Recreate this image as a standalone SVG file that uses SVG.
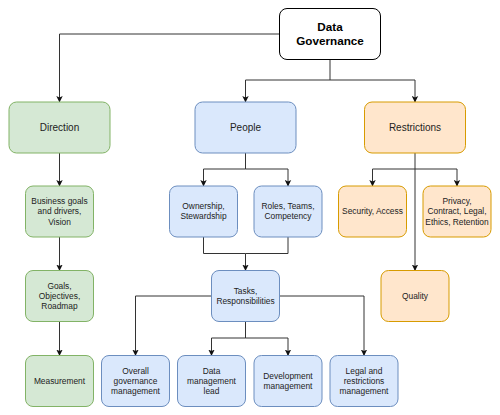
<svg xmlns="http://www.w3.org/2000/svg" width="500" height="415" viewBox="0 0 500 415">
<defs>
<marker id="arr" markerWidth="7" markerHeight="7" refX="6" refY="3.5" orient="auto" markerUnits="userSpaceOnUse">
<path d="M0,0.3 L6.5,3.5 L0,6.7 L1.6,3.5 Z" fill="#111"/>
</marker>
<style>
text{font-family:"Liberation Sans",Arial,sans-serif;fill:#222;text-anchor:middle}
.s{font-size:8.4px}
.m{font-size:10px}
.t{font-size:11.7px;font-weight:bold;fill:#000}
.root{fill:#fff;stroke:#000;stroke-width:1}
.g{fill:#d5e8d4;stroke:#82b366;stroke-width:1}
.b{fill:#dae8fc;stroke:#6c8ebf;stroke-width:1}
.o{fill:#ffe6cc;stroke:#d79b00;stroke-width:1}
.c{fill:none;stroke:#333;stroke-width:1}
.a{marker-end:url(#arr)}
</style>
</defs>
<g id="connectors">
<path class="c a" d="M279.5,34 H59.5 V102"/>
<path class="c a" d="M330,59.5 V80 H245.5 V102"/>
<path class="c a" d="M330,80 H415 V102"/>
<path class="c a" d="M59.5,153 V186"/>
<path class="c a" d="M59.5,237 V270.5"/>
<path class="c a" d="M59.5,321.5 V355.5"/>
<path class="c a" d="M245.5,153 V169 H203.5 V186"/>
<path class="c a" d="M245.5,169 H288 V186"/>
<path class="c a" d="M203.5,237 V253.5 H245.5 V270.5"/>
<path class="c" d="M288,237 V253.5 H245.5"/>
<path class="c a" d="M415,153 V270.5"/>
<path class="c a" d="M415,169 H372.5 V186"/>
<path class="c a" d="M415,169 H457 V186"/>
<path class="c a" d="M211.5,296 H135.5 V355.5"/>
<path class="c a" d="M279.5,296 H364 V355.5"/>
<path class="c a" d="M245.5,321.5 V338 H211.5 V355.5"/>
<path class="c a" d="M245.5,338 H288 V355.5"/>
</g>
<g id="data-governance">
<rect class="root" x="279.5" y="8.5" width="101" height="51" rx="7.5"/>
<text class="t" x="330" y="31.1">Data</text>
<text class="t" x="330" y="45.1">Governance</text>
</g>
<g id="direction">
<rect class="g" x="9" y="102" width="101" height="51" rx="7.5"/>
<text class="m" x="59.5" y="131">Direction</text>
</g>
<g id="people">
<rect class="b" x="195" y="102" width="101" height="51" rx="7.5"/>
<text class="m" x="245.5" y="131">People</text>
</g>
<g id="restrictions">
<rect class="o" x="364.5" y="102" width="101" height="51" rx="7.5"/>
<text class="m" x="415" y="131">Restrictions</text>
</g>
<g id="business-goals">
<rect class="g" x="25.5" y="186" width="68" height="51" rx="7.5"/>
<text class="s" x="59.5" y="204.3">Business goals</text>
<text class="s" x="59.5" y="214.4">and drivers,</text>
<text class="s" x="59.5" y="224.5">Vision</text>
</g>
<g id="goals">
<rect class="g" x="25.5" y="270.5" width="68" height="51" rx="7.5"/>
<text class="s" x="59.5" y="288.8">Goals,</text>
<text class="s" x="59.5" y="298.9">Objectives,</text>
<text class="s" x="59.5" y="309">Roadmap</text>
</g>
<g id="measurement">
<rect class="g" x="25.5" y="355.5" width="68" height="51" rx="7.5"/>
<text class="s" x="59.5" y="383.9">Measurement</text>
</g>
<g id="ownership">
<rect class="b" x="169.5" y="186" width="68" height="51" rx="7.5"/>
<text class="s" x="203.5" y="209.4">Ownership,</text>
<text class="s" x="203.5" y="219.4">Stewardship</text>
</g>
<g id="roles">
<rect class="b" x="254" y="186" width="68" height="51" rx="7.5"/>
<text class="s" x="288" y="209.4">Roles, Teams,</text>
<text class="s" x="288" y="219.4">Competency</text>
</g>
<g id="tasks">
<rect class="b" x="211.5" y="270.5" width="68" height="51" rx="7.5"/>
<text class="s" x="245.5" y="293.9">Tasks,</text>
<text class="s" x="245.5" y="303.9">Responsibilities</text>
</g>
<g id="security">
<rect class="o" x="338.5" y="186" width="68" height="51" rx="7.5"/>
<text class="s" x="372.5" y="214.4">Security, Access</text>
</g>
<g id="privacy">
<rect class="o" x="423" y="186" width="68" height="51" rx="7.5"/>
<text class="s" x="457" y="204.3">Privacy,</text>
<text class="s" x="457" y="214.4">Contract, Legal,</text>
<text class="s" x="457" y="224.5">Ethics, Retention</text>
</g>
<g id="quality">
<rect class="o" x="381" y="270.5" width="68" height="51" rx="7.5"/>
<text class="s" x="415" y="298.9">Quality</text>
</g>
<g id="overall">
<rect class="b" x="101.5" y="355.5" width="68" height="51" rx="7.5"/>
<text class="s" x="135.5" y="373.8">Overall</text>
<text class="s" x="135.5" y="383.9">governance</text>
<text class="s" x="135.5" y="394">management</text>
</g>
<g id="data-management-lead">
<rect class="b" x="177.5" y="355.5" width="68" height="51" rx="7.5"/>
<text class="s" x="211.5" y="373.8">Data</text>
<text class="s" x="211.5" y="383.9">management</text>
<text class="s" x="211.5" y="394">lead</text>
</g>
<g id="development">
<rect class="b" x="254" y="355.5" width="68" height="51" rx="7.5"/>
<text class="s" x="288" y="378.9">Development</text>
<text class="s" x="288" y="388.9">management</text>
</g>
<g id="legal">
<rect class="b" x="330" y="355.5" width="68" height="51" rx="7.5"/>
<text class="s" x="364" y="373.8">Legal and</text>
<text class="s" x="364" y="383.9">restrictions</text>
<text class="s" x="364" y="394">management</text>
</g>
</svg>
